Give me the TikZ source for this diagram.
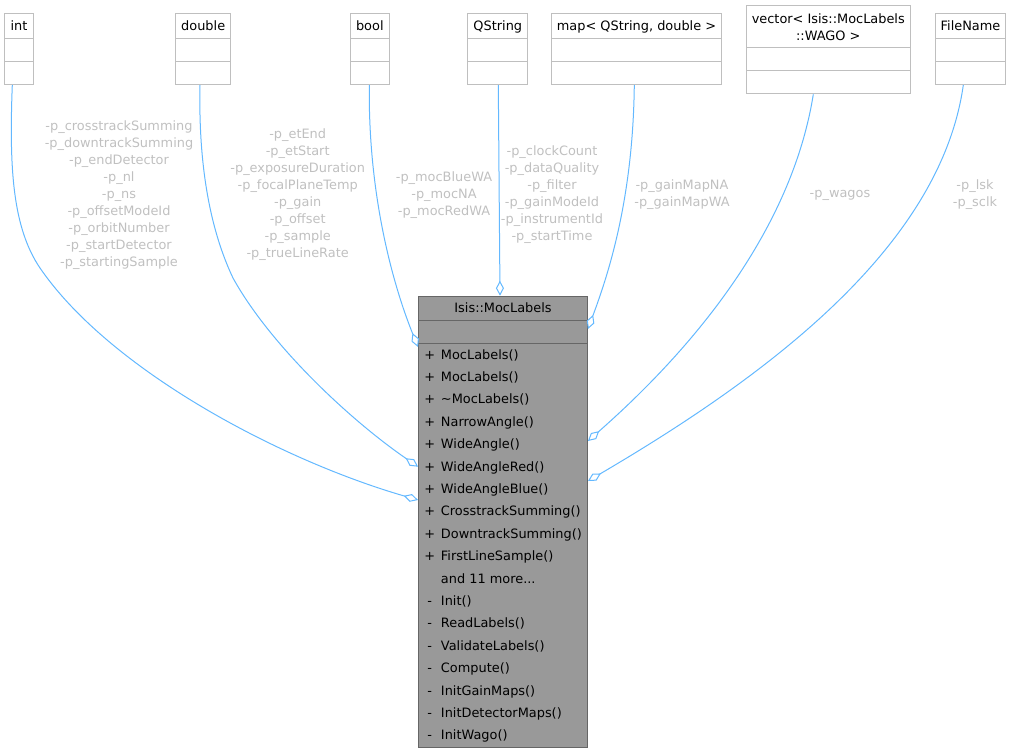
\documentclass[tikz,border=0pt]{standalone}
\usepackage{fontspec}
\setmainfont{DejaVu Sans}
\usepackage{tikz}
\usetikzlibrary{arrows.meta,shapes.multipart}
\definecolor{edgeblue}{HTML}{63B8FF}
\definecolor{labelgrey}{HTML}{C0C0C0}
\definecolor{boxgrey}{HTML}{BFBFBF}
\definecolor{mainfill}{HTML}{999999}
\definecolor{mainborder}{HTML}{666666}
\newcommand{\pub}[1]{\makebox[11pt][c]{+}\hspace{5.8pt}#1}
\newcommand{\priv}[1]{\makebox[11pt][c]{-}\hspace{5.8pt}#1}
\newcommand{\titlestrut}{\rule[-7.2pt]{0pt}{23.8pt}}

\begin{document}
\begin{tikzpicture}[
    x=1pt, y=-1pt,
    every node/.style={font=\fontsize{12.9}{17}\selectfont},
    cls/.style={
      rectangle split, rectangle split parts=3, draw=boxgrey, fill=white,
      line width=1pt, inner xsep=5.6pt, inner ysep=0pt, anchor=north,
      rectangle split empty part height=22pt,
      rectangle split empty part depth=0pt
    },
    main/.style={cls, draw=mainborder, fill=mainfill,
      rectangle split empty part height=20.5pt},
    rel/.style={edgeblue, line width=1pt,
      -{Diamond[open, length=15pt, width=8pt]}},
    lbl/.style={text=labelgrey, align=center}
  ]
  \useasboundingbox (0,0) rectangle (1013,753);

  % --- member types, top row ---------------------------------------------
  \node[cls] (intcls)      at (19,13.3)    {\titlestrut int};
  \node[cls] (doublecls)   at (203.2,13.3) {\titlestrut double};
  \node[cls] (boolcls)     at (369.8,13.3) {\titlestrut bool};
  \node[cls] (qstringcls)  at (497.8,13.3) {\titlestrut QString};
  \node[cls] (mapcls)      at (636.5,13.3) {\titlestrut map< QString, double >};
  \node[cls] (vectorcls)   at (828.3,5)
    {\begin{tabular}{@{}c@{}}\rule{0pt}{17.6pt}vector< Isis::MocLabels\\
     \rule[-6.8pt]{0pt}{6.8pt}::WAGO >\end{tabular}};
  \node[cls] (filenamecls) at (970.5,13.3) {\titlestrut FileName};

  % --- the class itself ----------------------------------------------------
  \node[main] (moclabels) at (503,295.7) {\rule[-6.8pt]{0pt}{22.8pt}Isis::MocLabels\nodepart{three}%
    \def\arraystretch{1.3176}%
    \begin{tabular}{@{}l@{}}
      \pub{MocLabels()}\\
      \pub{MocLabels()}\\
      \pub{\textasciitilde MocLabels()}\\
      \pub{NarrowAngle()}\\
      \pub{WideAngle()}\\
      \pub{WideAngleRed()}\\
      \pub{WideAngleBlue()}\\
      \pub{CrosstrackSumming()}\\
      \pub{DowntrackSumming()}\\
      \pub{FirstLineSample()}\\
      \hspace{16.8pt}and 11 more...\\
      \priv{Init()}\\
      \priv{ReadLabels()}\\
      \priv{ValidateLabels()}\\
      \priv{Compute()}\\
      \priv{InitGainMaps()}\\
      \priv{InitDetectorMaps()}\\
      \priv{InitWago()}
    \end{tabular}};

  % --- aggregation edges ---------------------------------------------------
  \draw[rel] (intcls.south -| 12.3,0) .. controls (9,170) and (13,228) .. (40,268)
    .. controls (110,370) and (280,460) .. (moclabels.west |- 0,500);
  \draw[rel] (doublecls.south -| 200,0) .. controls (198,180) and (215,240) .. (233,278)
    .. controls (270,345) and (350,420) .. (moclabels.west |- 0,466.7);
  \draw[rel] (boolcls.south -| 369.3,0) .. controls (368,200) and (395,290) .. (moclabels.west |- 0,347);
  \draw[rel] (qstringcls.south -| 498.3,0) -- (moclabels.north -| 500,0);
  \draw[rel] (mapcls.south -| 634.3,0) .. controls (633,200) and (608,275) .. (moclabels.east |- 0,329);
  \draw[rel] (vectorcls.south -| 813.3,0) .. controls (790,240) and (680,360) .. (moclabels.east |- 0,441);
  \draw[rel] (filenamecls.south -| 963.3,0) .. controls (940,250) and (760,380) .. (moclabels.east |- 0,481);

  % --- edge labels ---------------------------------------------------------
  \node[lbl] (intlbl) at (119,195) {-p\_crosstrackSumming\\-p\_downtrackSumming\\-p\_endDetector\\-p\_nl\\-p\_ns\\-p\_offsetModeId\\-p\_orbitNumber\\-p\_startDetector\\-p\_startingSample};
  \node[lbl] (doublelbl) at (297.7,195) {-p\_etEnd\\-p\_etStart\\-p\_exposureDuration\\-p\_focalPlaneTemp\\-p\_gain\\-p\_offset\\-p\_sample\\-p\_trueLineRate};
  \node[lbl] (boollbl) at (444,195) {-p\_mocBlueWA\\-p\_mocNA\\-p\_mocRedWA};
  \node[lbl] (qstringlbl) at (552,194.5) {-p\_clockCount\\-p\_dataQuality\\-p\_filter\\-p\_gainModeId\\-p\_instrumentId\\-p\_startTime};
  \node[lbl] (maplbl) at (682,194.5) {-p\_gainMapNA\\-p\_gainMapWA};
  \node[lbl] (vectorlbl) at (840,195) {-p\_wagos};
  \node[lbl] (filenamelbl) at (975,194.5) {-p\_lsk\\-p\_sclk};

\end{tikzpicture}
\end{document}
